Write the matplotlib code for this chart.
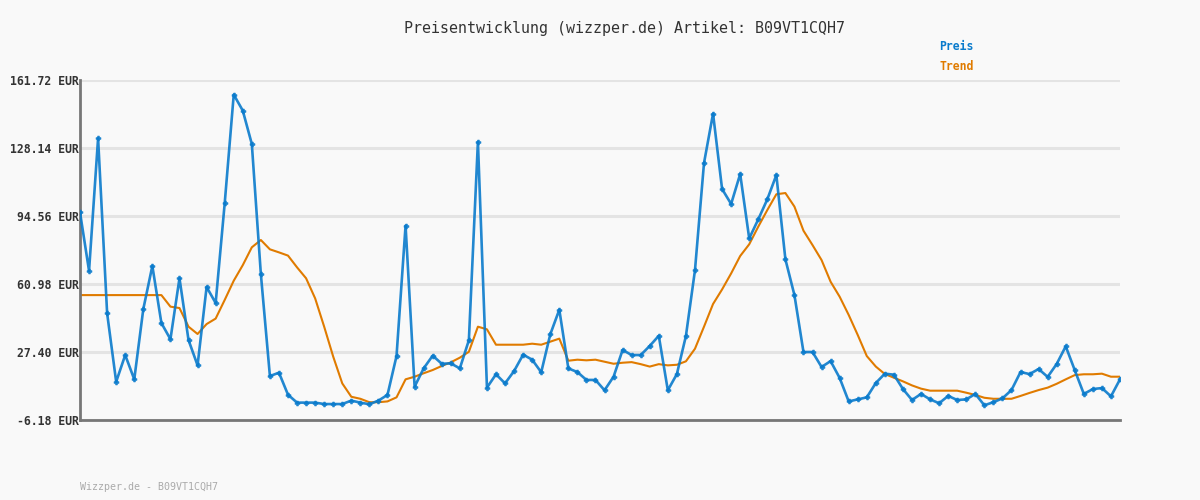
import matplotlib
matplotlib.use("Agg")
import matplotlib.pyplot as plt
import numpy as np

title = "Preisentwicklung (wizzper.de) Artikel: B09VT1CQH7"
footer = "Wizzper.de - B09VT1CQH7"

preis = [96.4, 67.5, 132.9, 46.5, 12.7, 25.9, 13.9, 48.6, 69.9, 41.7,
         33.7, 63.8, 33.3, 20.8, 59.5, 51.6, 100.8, 154.5, 146.6, 130.1,
         65.8, 15.5, 17.2, 6.3, 2.4, 2.4, 2.4, 1.7, 1.7, 1.7,
         3.4, 2.4, 1.6, 3.4, 6.2, 25.4, 89.8, 10.3, 19.3, 25.6,
         21.6, 21.8, 19.3, 33.2, 131.2, 9.8, 16.4, 11.9, 18.0, 26.1,
         23.6, 17.4, 36.1, 48.3, 19.3, 17.5, 13.6, 13.6, 8.5, 15.2,
         28.4, 25.9, 25.9, 30.4, 35.4, 8.5, 16.5, 35.3, 67.7, 120.7,
         145.1, 107.9, 100.5, 115.3, 83.5, 92.9, 102.8, 114.8, 73.2, 55.5,
         27.4, 27.4, 20.0, 22.9, 14.6, 3.0, 4.0, 5.0, 12.1, 16.7,
         16.2, 9.1, 3.7, 6.7, 4.0, 2.1, 5.7, 3.7, 4.0, 6.7,
         1.1, 2.6, 4.5, 8.6, 17.5, 16.5, 19.0, 15.1, 21.5, 30.2,
         18.4, 6.7, 9.1, 9.6, 5.5, 13.9]

trend = [55.5, 55.5, 55.5, 55.5, 55.5, 55.5, 55.5, 55.5, 55.5, 55.5,
         49.8, 49.1, 39.9, 36.3, 41.2, 43.9, 53.1, 62.6, 70.3, 79.1,
         82.7, 78.1, 76.6, 75.0, 69.2, 63.8, 53.9, 39.9, 25.1, 11.9,
         5.3, 4.3, 2.6, 2.6, 3.0, 5.0, 13.9, 15.2, 16.9, 18.5,
         20.5, 22.3, 24.6, 27.5, 39.9, 38.6, 31.0, 31.0, 31.0, 31.0,
         31.5, 31.0, 32.5, 34.0, 23.1, 23.6, 23.3, 23.6, 22.6, 21.6,
         22.1, 22.4, 21.4, 20.2, 21.4, 20.8, 21.1, 22.8, 29.0, 39.9,
         51.1, 58.3, 66.2, 74.8, 80.6, 89.3, 97.5, 105.3, 105.9, 99.2,
         87.3, 80.2, 72.8, 62.1, 54.7, 45.7, 35.8, 25.4, 20.2, 16.5,
         14.7, 12.9, 10.9, 9.3, 8.3, 8.3, 8.3, 8.3, 7.3, 6.2,
         4.8, 4.3, 4.3, 4.3, 5.7, 7.2, 8.6, 9.8, 11.7, 13.9,
         16.0, 16.4, 16.4, 16.7, 15.2, 15.2]

yticks = [-6.18, 27.40, 60.98, 94.56, 128.14, 161.72]
ytick_labels = ["%.2f EUR" % v for v in yticks]

bg = "#f9f9f9"
blue = "#0a7bcc"
orange = "#e07b00"
mono = "DejaVu Sans Mono"

fig = plt.figure(figsize=(12, 5), dpi=100, facecolor=bg)
ax = fig.add_axes([80/1200, 80/500, 1040/1200, 340/500], facecolor=bg)

x = np.arange(len(preis))
ax.set_xlim(0, len(preis) - 1)
ax.set_ylim(yticks[0], yticks[-1])

for v in yticks:
    ax.axhline(v, color="#e4e4e4", lw=2.2, zorder=0)

ax.plot(x, trend, color=orange, lw=1.5, zorder=2)
ax.plot(x, preis, color=blue, lw=1.9, alpha=0.9, zorder=3,
        marker="P", markersize=3.5, markerfacecolor=blue, markeredgecolor=blue,
        markeredgewidth=0.5)

ax.set_yticks(yticks)
ax.set_yticklabels(ytick_labels, fontfamily=mono, fontsize=8.3,
                   fontweight="bold", color="#333333")
ax.tick_params(axis="y", length=0, pad=1)
ax.set_xticks([])

for s in ["top", "right"]:
    ax.spines[s].set_visible(False)
for s in ["left", "bottom"]:
    ax.spines[s].set_color("#777777")
    ax.spines[s].set_linewidth(2)

fig.text(624/1200, 1 - 28/500, title, ha="center", va="center",
         fontfamily=mono, fontsize=10.8, color="#333333")
fig.text(939/1200, 1 - 47/500, "Preis", ha="left", va="center",
         fontfamily=mono, fontsize=8.3, fontweight="bold", color=blue)
fig.text(939/1200, 1 - 67/500, "Trend", ha="left", va="center",
         fontfamily=mono, fontsize=8.3, fontweight="bold", color=orange)
fig.text(80/1200, 1 - 487/500, footer, ha="left", va="center",
         fontfamily=mono, fontsize=7.2, color="#aaaaaa")

fig.savefig("out.png", dpi=100, facecolor=bg)
